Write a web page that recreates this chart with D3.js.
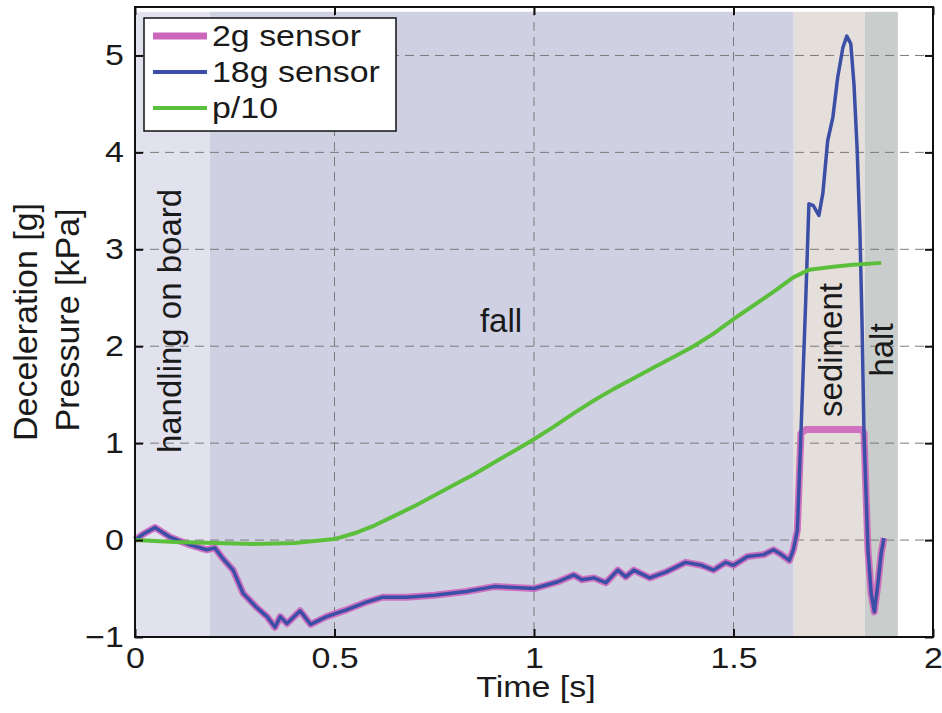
<!DOCTYPE html>
<html>
<head>
<meta charset="utf-8">
<script src="https://cdn.jsdelivr.net/npm/d3@7"></script>
<style>
body{
	margin:0;
	background-color: white;
}
svg text{
	font-family: "Liberation Sans", Arial, sans-serif;
	fill: #1a1a1a;
}
</style>
</head>
<body>
<div id="chart"></div>
<script>
// time axis ticks and y ticks
var xTicks = [0, 0.5, 1, 1.5, 2];
var yTicks = [-1, 0, 1, 2, 3, 4, 5];

// phases of the drop (start, end in s)
var phaseNames = ["handling on board", "fall", "sediment", "halt"];
var phaseStart = [0, 0.188, 1.651, 1.829];
var phaseEnd = [0.188, 1.651, 1.829, 1.912];
var phaseColors = ["#e1e2ee", "#d0d0e3", "#e5dfdb", "#c9cdcb"];

// 18g sensor, deceleration [g]
var time18 = [0, 0.02, 0.05, 0.088, 0.138, 0.18, 0.2, 0.22, 0.246, 0.271,
	0.306, 0.331, 0.351, 0.364, 0.381, 0.414, 0.44, 0.48, 0.53, 0.58,
	0.62, 0.68, 0.75, 0.83, 0.9, 0.95, 1.0, 1.06, 1.1, 1.12,
	1.15, 1.18, 1.21, 1.23, 1.25, 1.29, 1.33, 1.38, 1.42, 1.45,
	1.48, 1.5, 1.535, 1.576, 1.6, 1.62, 1.64, 1.65, 1.66, 1.669,
	1.681, 1.689, 1.70, 1.714, 1.724, 1.736, 1.749, 1.761, 1.774, 1.784,
	1.794, 1.802, 1.81, 1.817, 1.822, 1.827, 1.837, 1.845, 1.853, 1.862,
	1.87, 1.877];
var decel18 = [0, 0.06, 0.13, 0.03, -0.05, -0.10, -0.08, -0.19, -0.31, -0.55,
	-0.70, -0.79, -0.90, -0.79, -0.86, -0.73, -0.87, -0.79, -0.72, -0.64,
	-0.59, -0.59, -0.57, -0.53, -0.48, -0.49, -0.50, -0.43, -0.36, -0.41,
	-0.39, -0.44, -0.31, -0.38, -0.31, -0.39, -0.33, -0.23, -0.26, -0.31,
	-0.23, -0.26, -0.17, -0.15, -0.10, -0.15, -0.21, -0.10, 0.10, 1.1,
	2.47, 3.47, 3.45, 3.35, 3.58, 4.12, 4.36, 4.77, 5.08, 5.2,
	5.12, 4.7, 4.02, 3.16, 2.27, 1.1, -0.1, -0.55, -0.74, -0.45,
	-0.14, 0.02];

// 2g sensor (saturates near 1.14 g), same sample times
var decel2g = [0, 0.06, 0.13, 0.03, -0.05, -0.10, -0.08, -0.19, -0.31, -0.55,
	-0.70, -0.79, -0.90, -0.79, -0.86, -0.73, -0.87, -0.79, -0.72, -0.64,
	-0.59, -0.59, -0.57, -0.53, -0.48, -0.49, -0.50, -0.43, -0.36, -0.41,
	-0.39, -0.44, -0.31, -0.38, -0.31, -0.39, -0.33, -0.23, -0.26, -0.31,
	-0.23, -0.26, -0.17, -0.15, -0.10, -0.15, -0.21, -0.10, 0.10, 1.1,
	1.14, 1.14, 1.14, 1.14, 1.14, 1.14, 1.14, 1.14, 1.14, 1.14,
	1.14, 1.14, 1.14, 1.14, 1.14, 1.1, -0.1, -0.55, -0.74, -0.45,
	-0.14, 0.02];

// pressure / 10 [kPa]
var timeP = [0, 0.05, 0.1, 0.2, 0.3, 0.4, 0.45, 0.5, 0.55, 0.6,
	0.65, 0.7, 0.75, 0.8, 0.85, 0.9, 0.95, 1.0, 1.05, 1.1,
	1.15, 1.2, 1.25, 1.3, 1.35, 1.4, 1.45, 1.5, 1.55, 1.6,
	1.65, 1.69, 1.75, 1.8, 1.87];
var pressure = [0, -0.01, -0.02, -0.03, -0.04, -0.03, -0.01, 0.01, 0.07, 0.15,
	0.25, 0.35, 0.46, 0.57, 0.68, 0.80, 0.92, 1.04, 1.17, 1.31,
	1.44, 1.56, 1.67, 1.78, 1.89, 2.0, 2.13, 2.28, 2.42, 2.56,
	2.71, 2.79, 2.82, 2.84, 2.86];

var legendNames = ["2g sensor", "18g sensor", "p/10"];
var legendColors = ["#cc66bb", "#3b4fa6", "#5cbf3c"];
var legendWidths = [7, 4, 4];

var W = 942, H = 713;
var plotL = 135, plotR = 933, plotT = 7, plotB = 637;
var sx = 1.17; // horizontal stretch of the horizontal labels

var svg = d3.select('#chart').append('svg')
	.attr('width', W)
	.attr('height', H);

var x = d3.scaleLinear().domain([0, 2]).range([plotL, plotR]);
var y = d3.scaleLinear().domain([-1, 5.5]).range([plotB, plotT]);

// phase shading
svg.selectAll('rect.phase').data(phaseNames).enter().append('rect')
	.attr('class', 'phase')
	.attr('x', function(d, i){ return x(phaseStart[i]); })
	.attr('width', function(d, i){ return x(phaseEnd[i]) - x(phaseStart[i]); })
	.attr('y', y(5.45))
	.attr('height', plotB - y(5.45))
	.attr('fill', function(d, i){ return phaseColors[i]; });

// dashed grid
var grid = svg.append('g').attr('stroke', '#7a7a7a').attr('stroke-width', 1)
	.attr('stroke-dasharray', '9,6');
grid.selectAll('line.gx').data([0.5, 1, 1.5]).enter().append('line')
	.attr('x1', function(d){ return x(d); }).attr('x2', function(d){ return x(d); })
	.attr('y1', plotT).attr('y2', plotB);
grid.selectAll('line.gy').data([0, 1, 2, 3, 4, 5]).enter().append('line')
	.attr('y1', function(d){ return y(d); }).attr('y2', function(d){ return y(d); })
	.attr('x1', plotL).attr('x2', plotR);

// curves
function lineFor(tt, vv){
	return d3.line()
		.x(function(d, i){ return x(tt[i]); })
		.y(function(d, i){ return y(vv[i]); })(vv);
}
svg.append('path').attr('d', lineFor(time18, decel2g))
	.attr('fill', 'none').attr('stroke', legendColors[0]).attr('stroke-width', 7)
	.attr('stroke-linejoin', 'round').attr('opacity', 0.9);
svg.append('path').attr('d', lineFor(time18, decel18))
	.attr('fill', 'none').attr('stroke', legendColors[1]).attr('stroke-width', 3.5)
	.attr('stroke-linejoin', 'round');
svg.append('path').attr('d', lineFor(timeP, pressure))
	.attr('fill', 'none').attr('stroke', legendColors[2]).attr('stroke-width', 4)
	.attr('stroke-linejoin', 'round');

// axes with inward ticks on all four sides
var fmt = function(d){ return d3.format('')(d); };
svg.append('g').attr('transform', 'translate(0,' + plotB + ')')
	.call(d3.axisBottom(x).tickValues(xTicks).tickSizeInner(-8).tickSizeOuter(0).tickPadding(10).tickFormat(fmt));
svg.append('g').attr('transform', 'translate(' + plotL + ',0)')
	.call(d3.axisLeft(y).tickValues(yTicks).tickSizeInner(-8).tickSizeOuter(0).tickPadding(9.5).tickFormat(fmt));
svg.append('g').attr('transform', 'translate(0,' + plotT + ')')
	.call(d3.axisTop(x).tickValues(xTicks).tickSizeInner(-8).tickSizeOuter(0).tickFormat(''));
svg.append('g').attr('transform', 'translate(' + plotR + ',0)')
	.call(d3.axisRight(y).tickValues(yTicks).tickSizeInner(-8).tickSizeOuter(0).tickFormat(''));
svg.selectAll('.domain').remove();
svg.selectAll('.tick line').attr('stroke', '#111').attr('stroke-width', 2);
svg.selectAll('.tick text').attr('font-size', 29).attr('fill', '#1a1a1a')
	.attr('transform', 'scale(' + sx + ',1)');

svg.append('rect')
	.attr('x', plotL).attr('y', plotT)
	.attr('width', plotR - plotL).attr('height', plotB - plotT)
	.attr('fill', 'none').attr('stroke', '#111').attr('stroke-width', 2);

// axis titles
svg.append('text').attr('transform', 'translate(536,697) scale(' + sx + ',1)')
	.attr('text-anchor', 'middle').attr('font-size', 29).text('Time [s]');
svg.append('text').attr('transform', 'translate(37,322) rotate(-90)')
	.attr('text-anchor', 'middle').attr('font-size', 34).text('Deceleration [g]');
svg.append('text').attr('transform', 'translate(79,320) rotate(-90)')
	.attr('text-anchor', 'middle').attr('font-size', 34).text('Pressure [kPa]');

// phase labels
svg.append('text').attr('transform', 'translate(181,321) rotate(-90)')
	.attr('text-anchor', 'middle').attr('font-size', 33).text(phaseNames[0]);
svg.append('text').attr('x', 501).attr('y', 332)
	.attr('text-anchor', 'middle').attr('font-size', 33).text(phaseNames[1]);
svg.append('text').attr('transform', 'translate(842,350) rotate(-90)')
	.attr('text-anchor', 'middle').attr('font-size', 33).text(phaseNames[2]);
svg.append('text').attr('transform', 'translate(893,350) rotate(-90)')
	.attr('text-anchor', 'middle').attr('font-size', 33).text(phaseNames[3]);

// legend
var lg = svg.append('g');
lg.append('rect').attr('x', 144).attr('y', 18).attr('width', 252).attr('height', 113)
	.attr('fill', 'white').attr('stroke', '#111').attr('stroke-width', 1.5);
legendNames.forEach(function(name, i){
	var ly = 36 + i * 36;
	lg.append('line').attr('x1', 153).attr('x2', 207).attr('y1', ly).attr('y2', ly)
		.attr('stroke', legendColors[i]).attr('stroke-width', legendWidths[i]);
	lg.append('text').attr('transform', 'translate(212,' + (ly + 10) + ') scale(' + sx + ',1)')
		.attr('font-size', 29).text(name);
});
</script>
</body>
</html>
